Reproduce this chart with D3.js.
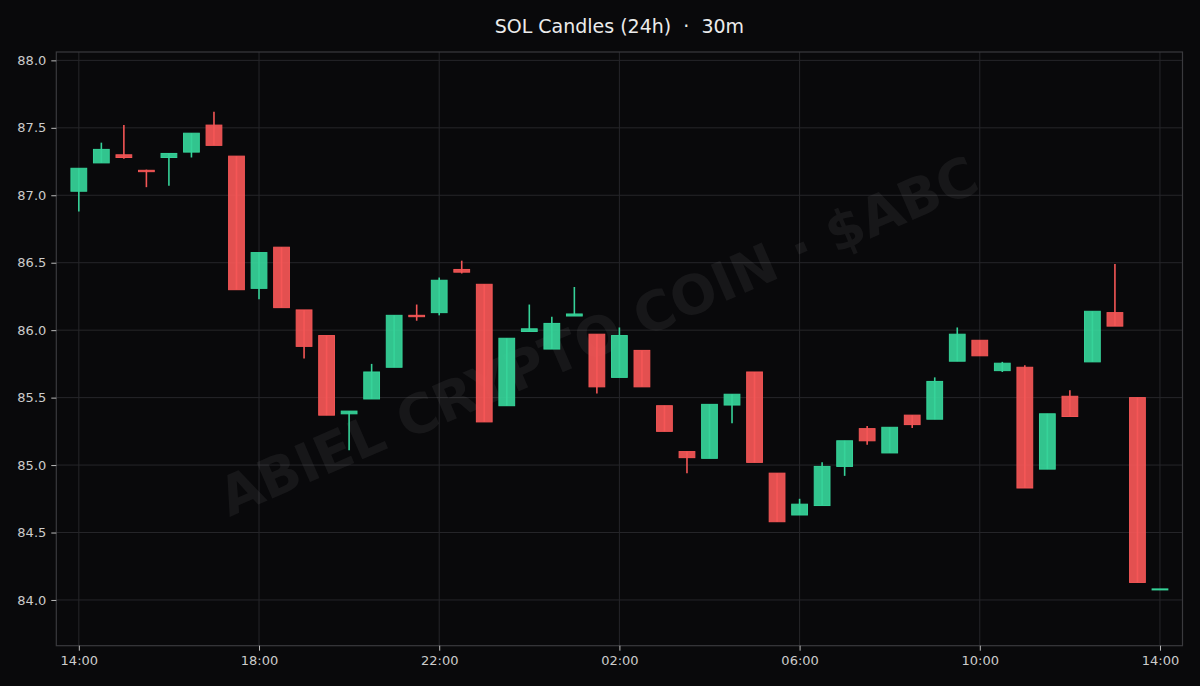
<!DOCTYPE html>
<html>
<head>
<meta charset="utf-8">
<script src="https://cdn.jsdelivr.net/npm/d3@7"></script>
<style>
  html, body { margin: 0; padding: 0; background: #09090b; }
  svg { display: block; }
</style>
</head>
<body>
<svg id="chart" width="1200" height="686"></svg>
<script>
// 30-minute candles, 14:00 -> 14:00 next day
const startTime = "2024-01-01T14:00:00";
const opens  = [87.03, 87.24, 87.30, 87.185, 87.28, 87.32, 87.52, 87.29, 86.31, 86.615,
                86.15, 85.96, 85.38, 85.49, 85.725, 86.11, 86.13, 86.45, 86.34, 85.44,
                85.99, 85.86, 86.105, 85.97, 85.65, 85.85, 85.44, 85.10, 85.05, 85.445,
                85.69, 84.94, 84.63, 84.70, 84.99, 85.27, 85.09, 85.37, 85.34, 85.77,
                85.925, 85.70, 85.725, 84.97, 85.51, 85.765, 86.13, 85.50, 84.078];
const closes = [87.20, 87.34, 87.28, 87.175, 87.31, 87.46, 87.37, 86.30, 86.575, 86.167,
                85.88, 85.37, 85.40, 85.69, 86.11, 86.10, 86.37, 86.43, 85.32, 85.94,
                86.01, 86.05, 86.12, 85.58, 85.96, 85.58, 85.25, 85.055, 85.45, 85.525,
                85.02, 84.58, 84.71, 84.99, 85.18, 85.18, 85.28, 85.30, 85.62, 85.97,
                85.81, 85.755, 84.83, 85.38, 85.36, 86.14, 86.03, 84.13, 84.082];
const highs  = [87.20, 87.39, 87.52, 87.19, 87.31, 87.46, 87.62, 87.29, 86.575, 86.615,
                86.15, 85.96, 85.40, 85.75, 86.11, 86.19, 86.39, 86.515, 86.34, 85.94,
                86.19, 86.10, 86.32, 85.97, 86.02, 85.85, 85.44, 85.10, 85.45, 85.525,
                85.69, 84.94, 84.75, 85.02, 85.18, 85.29, 85.28, 85.37, 85.65, 86.02,
                85.925, 85.765, 85.74, 85.38, 85.555, 86.14, 86.49, 85.50, 84.082];
const lows   = [86.88, 87.24, 87.27, 87.06, 87.07, 87.28, 87.37, 86.30, 86.23, 86.167,
                85.79, 85.37, 85.11, 85.49, 85.725, 86.07, 86.11, 86.42, 85.32, 85.44,
                85.99, 85.86, 86.105, 85.53, 85.65, 85.58, 85.25, 84.94, 85.05, 85.31,
                85.02, 84.58, 84.63, 84.70, 84.92, 85.15, 85.09, 85.275, 85.34, 85.77,
                85.81, 85.69, 84.83, 84.97, 85.36, 85.765, 86.03, 84.13, 84.078];
const yTicks = [84.0, 84.5, 85.0, 85.5, 86.0, 86.5, 87.0, 87.5, 88.0];
const yDomain = [83.661, 88.062];
const titleText = "SOL Candles (24h)  \u00b7  30m";
const watermarkText = "ABIEL CRYPTO COIN \u00b7 $ABC";

const upColor = "#36d399";
const downColor = "#f45656";

const step = 30 * 60 * 1000;
const t0 = new Date(startTime).getTime();
const times = opens.map((_, i) => new Date(t0 + i * step));
const candles = opens.map((o, i) => ({t: times[i], o, c: closes[i], h: highs[i], l: lows[i]}));

const svg = d3.select("#chart");
const W = 1200, H = 686;
const m = {left: 56.3, right: 1182.5, top: 52, bottom: 645.7};

svg.append("rect").attr("width", W).attr("height", H).attr("fill", "#09090b");

const x = d3.scaleTime()
  .domain([new Date(t0 - step), new Date(t0 + 49 * step)])
  .range([m.left, m.right]);
const y = d3.scaleLinear().domain(yDomain).range([m.bottom, m.top]);

const xTicks = d3.range(0, 7).map(k => new Date(t0 + k * 4 * 3600 * 1000));

// Grid
const grid = svg.append("g");
grid.selectAll("line.h").data(yTicks).join("line")
  .attr("x1", m.left).attr("x2", m.right)
  .attr("y1", d => y(d)).attr("y2", d => y(d))
  .attr("stroke", "#26262a").attr("stroke-width", 1);
grid.selectAll("line.v").data(xTicks).join("line")
  .attr("x1", d => x(d)).attr("x2", d => x(d))
  .attr("y1", m.top).attr("y2", m.bottom)
  .attr("stroke", "#26262a").attr("stroke-width", 1);

// Watermark
svg.append("text")
  .attr("transform", "translate(600,340) rotate(-23.5)")
  .attr("text-anchor", "middle")
  .attr("dominant-baseline", "middle")
  .attr("font-family", "DejaVu Sans")
  .attr("font-weight", "bold")
  .attr("font-size", 54)
  .attr("fill", "#ffffff")
  .attr("fill-opacity", 0.06)
  .text(watermarkText);

// Candles
const cw = (x(new Date(t0 + step)) - x(new Date(t0))) * 0.7;
const cg = svg.append("g");
const col = d => d.c >= d.o ? upColor : downColor;
cg.selectAll("line.wick").data(candles).join("line")
  .attr("x1", d => x(d.t)).attr("x2", d => x(d.t))
  .attr("y1", d => y(d.h)).attr("y2", d => y(d.l))
  .attr("stroke", col).attr("stroke-width", 1.6);
cg.selectAll("rect.body").data(candles).join("rect")
  .attr("x", d => x(d.t) - cw / 2)
  .attr("width", cw)
  .attr("y", d => y(Math.max(d.o, d.c)))
  .attr("height", d => Math.max(1, Math.abs(y(d.o) - y(d.c))))
  .attr("fill", col).attr("fill-opacity", 0.93)
  .attr("stroke", col).attr("stroke-width", 1);

// Frame
svg.append("rect")
  .attr("x", m.left).attr("y", m.top)
  .attr("width", m.right - m.left).attr("height", m.bottom - m.top)
  .attr("fill", "none").attr("stroke", "#3a3a3e").attr("stroke-width", 1.2);

// Axes
const xAxis = d3.axisBottom(x).tickValues(xTicks).tickFormat(d3.timeFormat("%H:%M")).tickSize(5).tickPadding(5);
const gx = svg.append("g").attr("transform", `translate(0,${m.bottom})`).call(xAxis);
gx.select(".domain").remove();
gx.selectAll(".tick line").attr("stroke", "#bbbbbb");
gx.selectAll(".tick text").attr("fill", "#cccccc").attr("font-size", 13).attr("font-family", "DejaVu Sans");

const yAxis = d3.axisLeft(y).tickValues(yTicks).tickFormat(d3.format(".1f")).tickSize(5).tickPadding(5);
const gy = svg.append("g").attr("transform", `translate(${m.left},0)`).call(yAxis);
gy.select(".domain").remove();
gy.selectAll(".tick line").attr("stroke", "#bbbbbb");
gy.selectAll(".tick text").attr("fill", "#cccccc").attr("font-size", 13).attr("font-family", "DejaVu Sans");

// Title
svg.append("text")
  .attr("x", (m.left + m.right) / 2).attr("y", 33)
  .attr("text-anchor", "middle")
  .attr("font-family", "DejaVu Sans")
  .attr("font-size", 19)
  .attr("fill", "#ececec")
  .style("white-space", "pre")
  .attr("xml:space", "preserve")
  .text(titleText);
</script>
</body>
</html>
